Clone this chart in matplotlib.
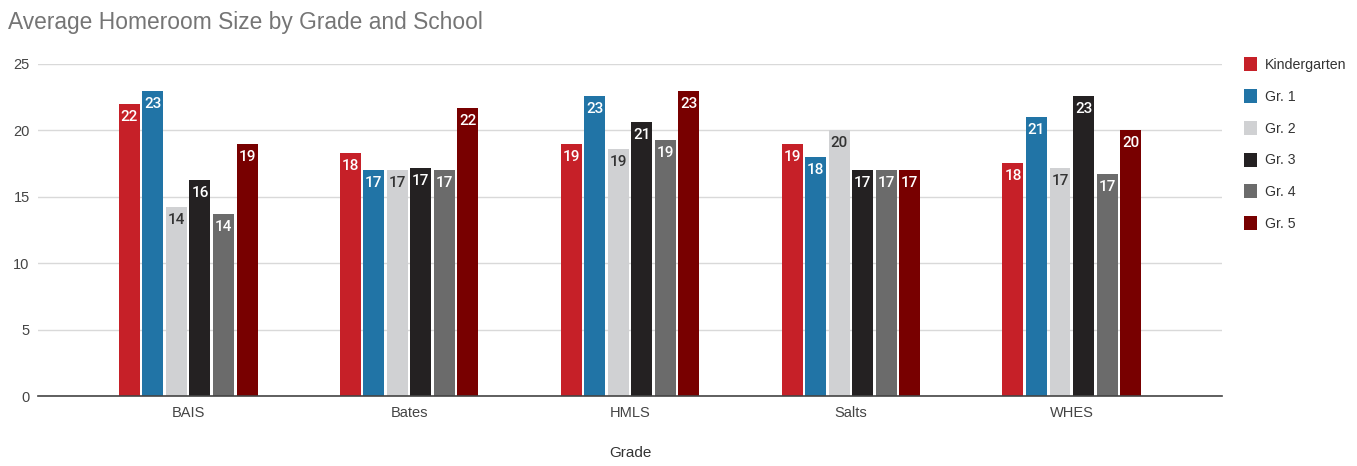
import numpy as np
import matplotlib.pyplot as plt
from matplotlib.patches import Patch

schools = ["BAIS", "Bates", "HMLS", "Salts", "WHES"]
grades = ["Kindergarten", "Gr. 1", "Gr. 2", "Gr. 3", "Gr. 4", "Gr. 5"]

kindergarten = [22.0, 18.3, 19.0, 19.0, 17.55]
gr1 = [23.0, 17.0, 22.6, 18.0, 21.0]
gr2 = [14.2, 17.0, 18.6, 20.0, 17.2]
gr3 = [16.3, 17.2, 20.6, 17.0, 22.6]
gr4 = [13.7, 17.0, 19.3, 17.0, 16.7]
gr5 = [19.0, 21.7, 23.0, 17.0, 20.0]

series = [kindergarten, gr1, gr2, gr3, gr4, gr5]
colors = ["#c62028", "#2174a6", "#d0d1d3", "#242122", "#6b6b6b", "#780000"]
label_colors = ["white", "white", "#333333", "white", "white", "white"]

fig = plt.figure(figsize=(13.57, 4.66), dpi=100)
ax = fig.add_axes([0.028, 0.150, 0.8725, 0.7127])

x = np.arange(len(schools))
slot = 0.1066
width = 0.095
for i, (vals, c, lc) in enumerate(zip(series, colors, label_colors)):
    pos = x + (i - 2.5) * slot
    bars = ax.bar(pos, vals, width=width, color=c, zorder=3)
    for b, v in zip(bars, vals):
        ax.text(b.get_x() + b.get_width() / 2, v - 0.45, "%.0f" % v,
                ha="center", va="top", color=lc, fontsize=11,
                family="Roboto", fontweight="medium", zorder=4)

ax.set_xlim(-0.68, 4.68)
ax.set_ylim(0, 25)
ax.set_yticks([0, 5, 10, 15, 20, 25])
ax.set_xticks(x)
ax.set_xticklabels(schools)
ax.tick_params(axis="both", length=0, labelsize=10.5, colors="#444444",
               labelfontfamily="Liberation Sans")
ax.tick_params(axis="x", pad=7)
ax.tick_params(axis="y", pad=6)
ax.grid(axis="y", color="#d9d9d9", linewidth=1, zorder=0)
for s in ["top", "right", "left"]:
    ax.spines[s].set_visible(False)
ax.spines["bottom"].set_color("#444444")
ax.spines["bottom"].set_linewidth(1.2)
ax.spines["bottom"].set_zorder(5)

ax.set_xlabel("Grade", fontsize=11, color="#333333", family="Liberation Sans",
              labelpad=19)

fig.text(0.006, 0.952, "Average Homeroom Size by Grade and School",
         fontsize=16.4, color="#757575", family="Liberation Sans",
         ha="left", va="center")

handles = [Patch(facecolor=c, edgecolor="none") for c in colors]
fig.legend(handles, grades, loc="upper left", bbox_to_anchor=(0.907, 0.905),
           frameon=False, prop={"family": "Liberation Sans", "size": 10.2},
           handlelength=0.95, handleheight=1.15, handletextpad=0.55,
           labelspacing=1.2, labelcolor="#333333")

fig.savefig("out.png", dpi=100)
